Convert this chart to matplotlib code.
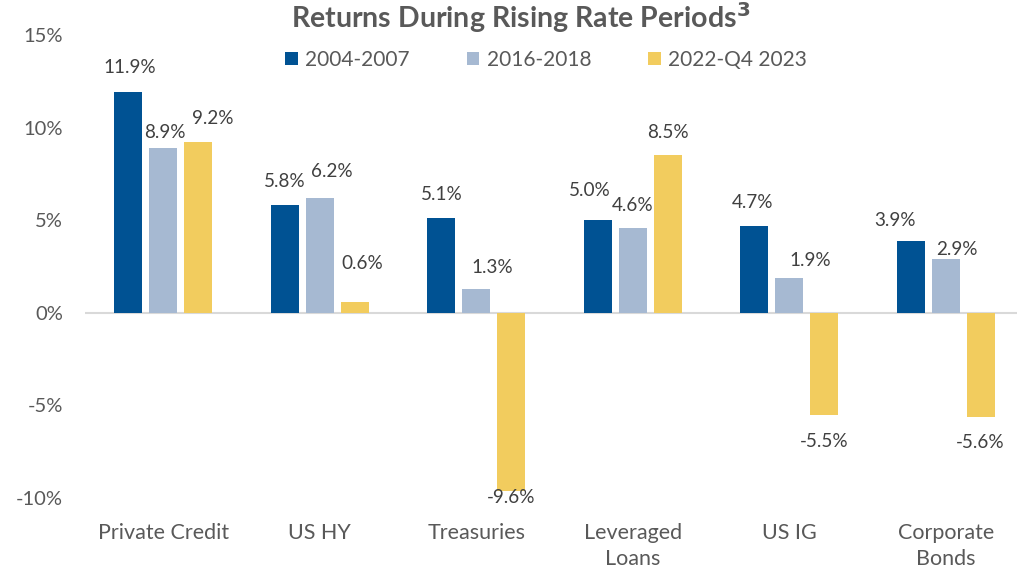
import matplotlib
matplotlib.use("Agg")
import matplotlib.pyplot as plt
import numpy as np

categories = ["Private Credit", "US HY", "Treasuries", "Leveraged\nLoans", "US IG", "Corporate\nBonds"]
series_names = ["2004-2007", "2016-2018", "2022-Q4 2023"]
s2004 = [11.9, 5.8, 5.1, 5.0, 4.7, 3.9]
s2016 = [8.9, 6.2, 1.3, 4.6, 1.9, 2.9]
s2022 = [9.2, 0.6, -9.6, 8.5, -5.5, -5.6]
colors = ["#005293", "#A6B9D2", "#F2CC5E"]
yticks = [-10, -5, 0, 5, 10, 15]

# label placement (pixels): horizontal nudge, distance of label centre from bar end
nudge_2004 = [(1, 25), (0, 24), (0, 24), (-8, 30), (-2, 23), (-16, 20)]
nudge_2016 = [(2, 15), (12, 26), (16, 21), (0, 22), (21, 17), (11, 10)]
nudge_2022 = [(15, 24), (8, 38), (0, 7), (0, 23), (0, 27), (0, 26)]

plt.rcParams['font.family'] = ['Lato', 'DejaVu Sans']
txt = "#595959"

fig = plt.figure(figsize=(10.17, 5.70), dpi=100)
ax = fig.add_axes([85/1017, 1-498/570, (1024-85)/1017, (498-35)/570])

x = np.arange(len(categories))
width = 0.178
pitch = 0.223
for i, (vals, name, c, nud) in enumerate(zip([s2004, s2016, s2022], series_names, colors,
                                              [nudge_2004, nudge_2016, nudge_2022])):
    xs = x + (i - 1) * pitch
    ax.bar(xs, vals, width, color=c, label=name, zorder=2)
    for xi, v, (dx, dy) in zip(xs, vals, nud):
        sign = 1 if v >= 0 else -1
        ax.annotate(f"{v:.1f}%", (xi, v), xytext=(dx, sign * dy), textcoords="offset pixels",
                    ha="center", va="center", fontsize=13.6, color="#404040")

ax.set_xlim(-0.5, len(categories) - 0.5)
ax.set_ylim(-10, 15)
ax.set_yticks(yticks)
ax.set_yticklabels([f"{t}%" for t in yticks], fontsize=14.5, color=txt)
ax.set_xticks(x)
ax.set_xticklabels(categories, fontsize=15.5, color=txt, linespacing=1.4)
ax.tick_params(axis="x", length=0, pad=18)
ax.tick_params(axis="y", length=0, pad=16)
for s in ax.spines.values():
    s.set_visible(False)
ax.axhline(0, color="#D9D9D9", lw=1.5, zorder=1)

fig.text(0.512, 1 - 18/570, "Returns During Rising Rate Periods$^{\\mathbf{3}}$", ha="center", va="center",
         fontsize=20.5, fontweight="bold", color=txt)
leg = fig.legend(loc="center", bbox_to_anchor=(546/1017, 1 - 60/570), ncol=3, frameon=False,
                 fontsize=15, handlelength=0.6, handleheight=0.6, columnspacing=2.75, handletextpad=0.35)
for t in leg.get_texts():
    t.set_color(txt)

fig.savefig("out.png", dpi=100)
